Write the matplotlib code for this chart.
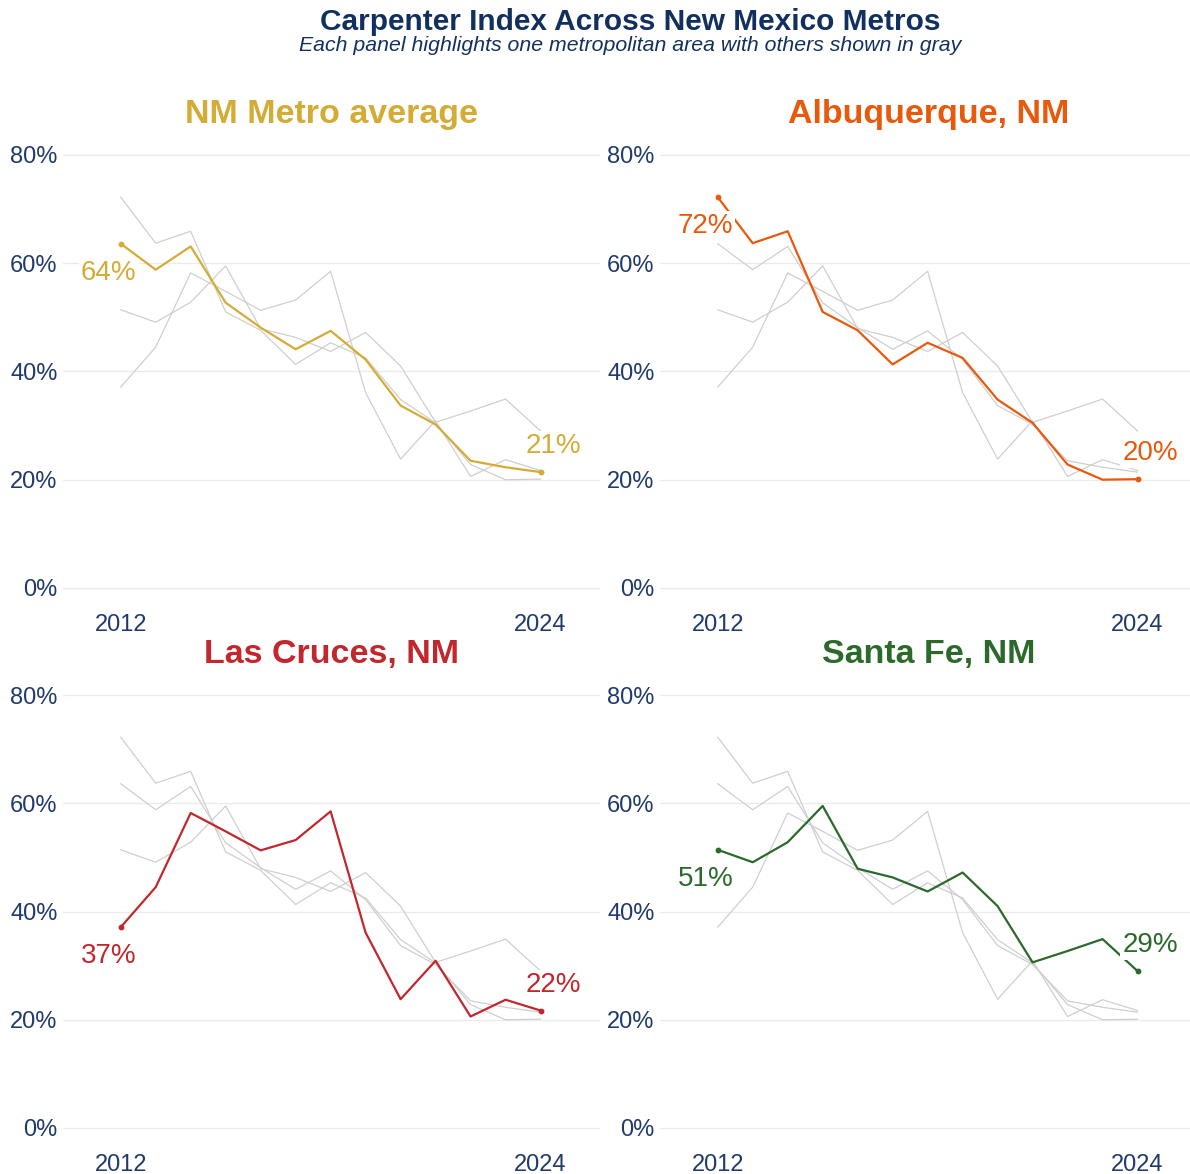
import matplotlib
matplotlib.use("Agg")
import matplotlib.pyplot as plt
from matplotlib.ticker import FuncFormatter, FixedLocator

plt.rcParams['font.family'] = ['Liberation Sans', 'DejaVu Sans']

# ---- data ----
years = list(range(2012, 2025))
metros = ["NM Metro average", "Albuquerque, NM", "Las Cruces, NM", "Santa Fe, NM"]
nm_avg = [63.6, 58.8, 63.1, 52.7, 48.1, 44.1, 47.5, 42.2, 33.7, 30.2, 23.5, 22.3, 21.4]
albuquerque = [72.2, 63.7, 65.9, 51.0, 47.6, 41.3, 45.3, 42.5, 34.8, 30.5, 22.8, 20.0, 20.1]
las_cruces = [37.1, 44.5, 58.2, 54.8, 51.3, 53.2, 58.5, 36.1, 23.8, 30.9, 20.6, 23.7, 21.7]
santa_fe = [51.4, 49.1, 52.8, 59.5, 47.9, 46.3, 43.7, 47.2, 41.0, 30.6, 32.7, 34.9, 29.0]
series = [nm_avg, albuquerque, las_cruces, santa_fe]
colors = ["#D4AC35", "#E8590C", "#C1272D", "#2B6A2B"]
y_ticks = [0, 20, 40, 60, 80]
x_ticks = [2012, 2024]

NAVY = "#12305F"
TICK = "#1F3A6B"
GRAY = "#CFCFCF"
GRID = "#EBEBEB"

W, H = 1190, 1174
fig = plt.figure(figsize=(W / 100, H / 100), dpi=100)
fig.patch.set_facecolor("white")

ax_w = 537 / W
ax_h = 476.3 / H
positions = [
    (63 / W, 1 - 609.6 / H),
    (660 / W, 1 - 609.6 / H),
    (63 / W, 1 - 1149.65 / H),
    (660 / W, 1 - 1149.65 / H),
]

for i, (name, vals, col) in enumerate(zip(metros, series, colors)):
    left, bottom = positions[i]
    ax = fig.add_axes([left, bottom, ax_w, ax_h])
    ax.set_facecolor("white")
    for s in ax.spines.values():
        s.set_visible(False)
    ax.set_xlim(2010.35, 2025.7)
    ax.set_ylim(-4, 84)
    ax.yaxis.set_major_locator(FixedLocator(y_ticks))
    ax.xaxis.set_major_locator(FixedLocator(x_ticks))
    ax.yaxis.set_major_formatter(FuncFormatter(lambda v, p: f"{v:.0f}%"))
    ax.xaxis.set_major_formatter(FuncFormatter(lambda v, p: f"{v:.0f}"))
    ax.tick_params(axis="both", length=0, labelsize=17, labelcolor=TICK)
    ax.tick_params(axis="y", pad=4)
    ax.tick_params(axis="x", pad=3)
    ax.grid(axis="y", color=GRID, lw=1.0)
    ax.grid(axis="x", visible=False)
    ax.set_axisbelow(True)

    for j, other in enumerate(series):
        if j != i:
            ax.plot(years, other, color=GRAY, lw=0.9, zorder=2)
    ax.plot(years, vals, color=col, lw=1.6, zorder=4)
    ax.plot([years[0], years[-1]], [vals[0], vals[-1]], "o", color=col, ms=3.2, zorder=5)

    box = dict(facecolor="white", edgecolor="none", pad=1.5)
    ax.annotate(f"{round(vals[0])}%", xy=(years[0], vals[0]), xytext=(-8.6, -21),
                textcoords="offset points", ha="center", va="center", fontsize=20,
                color=col, zorder=6, bbox=box)
    ax.annotate(f"{round(vals[-1])}%", xy=(years[-1], vals[-1]), xytext=(9.0, 18.5),
                textcoords="offset points", ha="center", va="center", fontsize=20,
                color=col, zorder=6, bbox=box)

    ax.text(0.5, 1.040, name, transform=ax.transAxes, ha="center", va="center",
            fontsize=24.5, fontweight="bold", color=col)

fig.text(630 / W, 1 - 21.5 / H, "Carpenter Index Across New Mexico Metros", ha="center",
         va="center", fontsize=21.5, fontweight="bold", color=NAVY)
fig.text(630 / W, 1 - 45.5 / H, "Each panel highlights one metropolitan area with others shown in gray",
         ha="center", va="center", fontsize=15.3, fontstyle="italic", color=NAVY)

fig.savefig("out.png", dpi=100, facecolor="white")
